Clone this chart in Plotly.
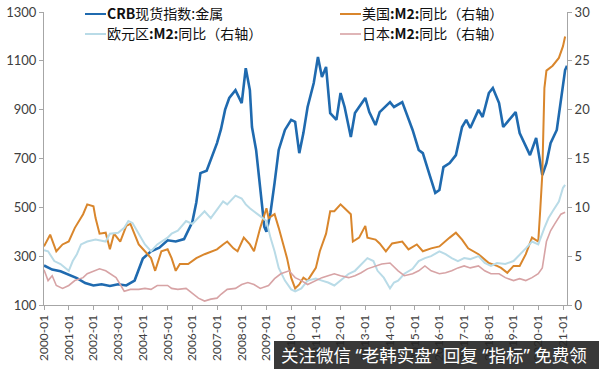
import plotly.graph_objects as go

# ---------------- data ----------------
crb_dates = ["2000-01","2000-05","2000-09","2001-01","2001-05","2001-09","2002-01","2002-05","2002-09",
             "2003-01","2003-05","2003-09","2004-01","2004-05","2004-09","2005-01","2005-05","2005-09",
             "2006-01","2006-03","2006-05","2006-08","2006-11","2007-01","2007-03","2007-05","2007-07",
             "2007-10","2008-01","2008-03","2008-05","2008-06","2008-08","2008-10","2008-12","2009-01",
             "2009-03","2009-05","2009-07","2009-10","2010-01","2010-03","2010-05","2010-07","2010-09",
             "2010-12","2011-02","2011-04","2011-06","2011-08","2011-11","2012-01","2012-03","2012-06",
             "2012-08","2013-01","2013-03","2013-06","2013-08","2014-01","2014-03","2014-07","2014-12",
             "2015-03","2015-05","2015-08","2015-11","2016-01","2016-03","2016-06","2016-09","2016-12",
             "2017-02","2017-04","2017-08","2017-10","2018-01","2018-03","2018-06","2018-08","2018-10",
             "2019-02","2019-04","2019-07","2019-09","2019-12","2020-01","2020-03","2020-05","2020-07",
             "2020-10","2020-12","2021-02","2021-03"]
crb_values = [262,245,238,225,210,190,180,185,178,
              185,180,200,290,320,335,365,360,370,
              440,520,640,650,720,763,820,900,948,
              980,927,1070,980,829,735,571,420,400,
              477,600,735,817,858,850,722,804,911,
              1009,1116,1034,1075,886,858,968,911,788,
              886,948,890,837,890,931,911,931,817,
              735,722,640,559,571,665,681,714,829,
              858,825,899,870,968,989,927,829,850,
              890,804,747,714,784,735,632,681,763,
              817,939,1062,1080]

us_dates = ["2000-01","2000-04","2000-07","2000-10","2001-01","2001-04","2001-08","2001-10","2002-01",
            "2002-02","2002-04","2002-07","2002-09","2002-11","2003-02","2003-05","2003-07","2003-11",
            "2004-02","2004-05","2004-07","2004-10","2005-01","2005-03","2005-05","2005-07","2005-11",
            "2006-03","2006-07","2007-01","2007-04","2007-06","2007-09","2007-11","2008-02","2008-05",
            "2008-07","2008-10","2009-01","2009-02","2009-05","2009-07","2009-11","2010-01","2010-03",
            "2010-05","2010-07","2010-09","2011-01","2011-03","2011-06","2011-08","2011-10","2012-01",
            "2012-03","2012-06","2012-07","2012-10","2013-01","2013-02","2013-06","2013-08","2013-11",
            "2014-02","2014-07","2014-10","2015-02","2015-05","2015-09","2016-01","2016-06","2016-09",
            "2016-12","2017-03","2017-08","2018-01","2018-05","2018-07","2018-10","2019-01","2019-04",
            "2019-07","2019-10","2020-01","2020-02","2020-03","2020-04","2020-05","2020-08","2020-11",
            "2021-01","2021-02"]
us_values = [6.0,7.2,5.5,6.2,6.5,7.9,9.3,10.3,10.1,
             8.9,7.3,7.4,5.7,7.3,6.5,8.1,8.3,6.2,
             5.5,4.8,3.5,5.5,5.7,4.8,3.5,4.2,4.2,
             4.8,5.2,5.7,6.2,6.5,5.8,5.5,6.9,6.2,
             5.5,7.9,9.9,8.9,9.3,7.9,4.8,2.8,1.7,
             2.1,2.8,2.5,3.8,5.5,7.3,9.6,9.6,10.3,
             9.9,9.3,6.5,6.9,8.1,6.9,6.7,6.3,5.5,
             6.3,6.5,5.7,6.2,5.5,5.8,6.0,6.9,7.4,
             6.7,5.8,5.2,4.3,4.0,3.8,3.3,4.0,4.0,
             5.2,6.9,6.5,9.9,13.4,22.2,24.0,24.5,25.3,
             26.5,27.5]

eu_dates = ["2000-01","2000-03","2000-06","2000-09","2001-01","2001-03","2001-05","2001-07","2001-10",
            "2002-02","2002-07","2002-09","2003-01","2003-04","2003-06","2003-08","2003-11","2004-02",
            "2004-05","2004-08","2005-01","2005-03","2005-06","2005-10","2006-01","2006-04","2006-07",
            "2006-10","2007-01","2007-04","2007-06","2007-10","2008-01","2008-03","2008-05","2008-07",
            "2008-10","2009-01","2009-03","2009-05","2009-07","2009-10","2010-01","2010-03","2010-06",
            "2010-09","2011-01","2011-04","2011-07","2011-10","2012-01","2012-05","2012-08","2012-11",
            "2013-02","2013-05","2013-07","2013-10","2014-01","2014-03","2014-05","2014-08","2014-12",
            "2015-03","2015-06","2015-09","2016-01","2016-04","2016-07","2016-10","2017-01","2017-04",
            "2017-08","2017-11","2018-02","2018-05","2018-09","2019-01","2019-04","2019-07","2019-10",
            "2020-01","2020-04","2020-06","2020-08","2020-11","2021-01","2021-02"]
eu_values = [5.6,5.5,4.5,4.2,3.5,4.5,5.2,6.2,6.5,
             6.7,6.5,7.3,7.4,7.9,8.6,8.4,7.3,6.2,
             5.5,6.2,6.9,7.3,7.6,8.6,8.3,8.9,9.6,
             8.9,9.8,10.6,10.3,11.2,10.9,10.3,9.9,9.6,
             9.1,8.6,6.9,5.5,3.8,2.5,1.6,1.4,1.7,
             2.5,2.7,2.5,2.3,2.0,2.5,3.2,3.5,4.2,
             4.8,4.5,3.5,2.8,1.7,2.3,2.5,3.2,3.7,
             4.5,4.8,5.0,5.5,5.2,4.8,4.5,4.8,4.7,
             5.0,4.3,4.0,4.3,4.2,4.5,5.2,5.8,6.5,
             6.2,7.9,8.9,9.6,10.6,12.0,12.3]

jp_dates = ["2000-01","2000-03","2000-05","2000-07","2000-10","2001-01","2001-04","2001-08","2001-10",
            "2002-02","2002-04","2002-07","2002-09","2002-12","2003-02","2003-04","2003-07","2003-11",
            "2004-02","2004-05","2004-08","2005-01","2005-03","2005-06","2005-10","2006-01","2006-04",
            "2006-07","2006-10","2007-01","2007-03","2007-06","2007-10","2008-01","2008-04","2008-07",
            "2008-10","2009-02","2009-05","2009-08","2009-12","2010-03","2010-06","2010-09","2011-01",
            "2011-04","2011-07","2011-10","2012-01","2012-05","2012-08","2012-11","2013-02","2013-06",
            "2013-09","2014-01","2014-05","2014-08","2014-12","2015-03","2015-06","2015-09","2016-01",
            "2016-04","2016-07","2016-10","2017-01","2017-04","2017-08","2017-11","2018-02","2018-06",
            "2018-09","2019-01","2019-04","2019-07","2019-10","2020-01","2020-03","2020-05","2020-07",
            "2020-09","2020-12","2021-02"]
jp_values = [3.6,2.5,3.0,2.0,1.7,2.0,2.5,2.8,3.2,
             3.5,3.7,3.5,3.2,2.8,2.1,1.4,1.6,1.6,
             1.7,1.6,2.0,2.0,1.7,1.6,1.7,1.2,0.7,
             0.4,0.6,0.7,1.1,1.6,1.7,2.1,2.3,2.1,
             1.7,2.0,2.7,3.2,3.5,2.8,2.5,2.1,2.5,
             2.8,3.0,3.2,3.0,2.8,3.0,3.3,3.7,4.0,
             4.2,4.3,3.5,3.0,3.2,3.5,4.0,3.5,3.2,
             3.3,3.5,3.8,4.0,3.8,4.0,3.5,3.2,3.2,
             2.8,2.5,2.7,2.5,2.8,3.2,3.8,6.5,7.6,
             8.3,9.3,9.5]

names = ["CRB现货指数:金属", "美国:M2:同比（右轴）", "欧元区:M2:同比（右轴）", "日本:M2:同比（右轴）"]
legend_labels = ["<b>CRB</b>现货指数:金属", "美国<b>:M2:</b>同比（右轴）",
                 "欧元区<b>:M2:</b>同比（右轴）", "日本<b>:M2:</b>同比（右轴）"]
colors = ["#1f6aaf", "#d9862c", "#b9dbe7", "#d7a3a5"]
widths = [2.6, 2.0, 2.0, 1.6]
left_ticks = [100, 300, 500, 700, 900, 1100, 1300]
right_ticks = [0, 5, 10, 15, 20, 25, 30]
year_ticks = [f"{y}-01" for y in range(2000, 2022)]

# plot area in figure pixels: x 44..567, y 12..305
PLOT_L, PLOT_T, PLOT_W, PLOT_H = 44, 12, 523, 293
def px(x):
    return (x - PLOT_L) / PLOT_W
def py(y):
    return 1 - (y - PLOT_T) / PLOT_H

# ---------------- figure ----------------
fig = go.Figure()
fig.add_trace(go.Scatter(x=us_dates, y=us_values, name=names[1], mode="lines",
                         line=dict(color=colors[1], width=widths[1]), yaxis="y2"))
fig.add_trace(go.Scatter(x=eu_dates, y=eu_values, name=names[2], mode="lines",
                         line=dict(color=colors[2], width=widths[2]), yaxis="y2"))
fig.add_trace(go.Scatter(x=jp_dates, y=jp_values, name=names[3], mode="lines",
                         line=dict(color=colors[3], width=widths[3]), yaxis="y2"))
fig.add_trace(go.Scatter(x=crb_dates, y=crb_values, name=names[0], mode="lines",
                         line=dict(color=colors[0], width=widths[0]), yaxis="y"))

tick_font = dict(family="Lato, Liberation Sans, sans-serif", size=13, color="#404040")
axis_common = dict(ticks="outside", ticklen=4, tickcolor="#a6a6a6", showline=True,
                   linecolor="#a6a6a6", linewidth=1, showgrid=False, zeroline=False,
                   automargin=False)

fig.update_layout(
    width=599, height=369,
    margin=dict(l=44, r=32, t=12, b=64),
    paper_bgcolor="white", plot_bgcolor="white",
    showlegend=False,
    xaxis=dict(type="date", range=["2000-01-01", "2021-03-01"],
               tickmode="array", tickvals=[d + "-01" for d in year_ticks], ticktext=year_ticks,
               tickangle=-90,
               tickfont=dict(family="Lato, Liberation Sans, sans-serif", size=12, color="#404040"),
               **axis_common),
    yaxis=dict(range=[100, 1300], tickmode="array", tickvals=left_ticks,
               tickfont=tick_font, **axis_common),
    yaxis2=dict(range=[0, 30], tickmode="array", tickvals=right_ticks, overlaying="y", side="right",
                tickfont=tick_font, **axis_common),
)

# legend (two columns, drawn as line samples + text)
legend_slots = [(85, 13), (340, 13), (85, 33), (340, 33)]  # order: CRB, US, EU, JP
for i, (lx, ly) in enumerate(legend_slots):
    fig.add_shape(type="line", xref="paper", yref="paper",
                  x0=px(lx), x1=px(lx + 21), y0=py(ly + 1), y1=py(ly + 1),
                  line=dict(color=colors[i], width=2 if i < 3 else 1.6))
    fig.add_annotation(xref="paper", yref="paper", x=px(lx + 20), y=py(ly),
                       xanchor="left", yanchor="middle", showarrow=False,
                       text=legend_labels[i],
                       font=dict(family="Noto Sans CJK SC", size=14, color="#111111"))

# watermark bar at the bottom right
fig.add_shape(type="rect", xref="paper", yref="paper", x0=px(274), x1=px(600),
              y0=py(370), y1=py(341), fillcolor="rgba(35,35,35,0.9)", line_width=0,
              layer="above")
fig.add_annotation(xref="paper", yref="paper", x=px(279), y=py(355),
                   xanchor="left", yanchor="middle", showarrow=False,
                   text="关注微信 “老韩实盘” 回复 “指标” 免费领",
                   font=dict(family="Noto Sans, Noto Sans CJK SC", size=17.5, color="white"))

fig.write_html("out.html", config={"displayModeBar": False},
               post_script="document.body.style.margin='0';")
